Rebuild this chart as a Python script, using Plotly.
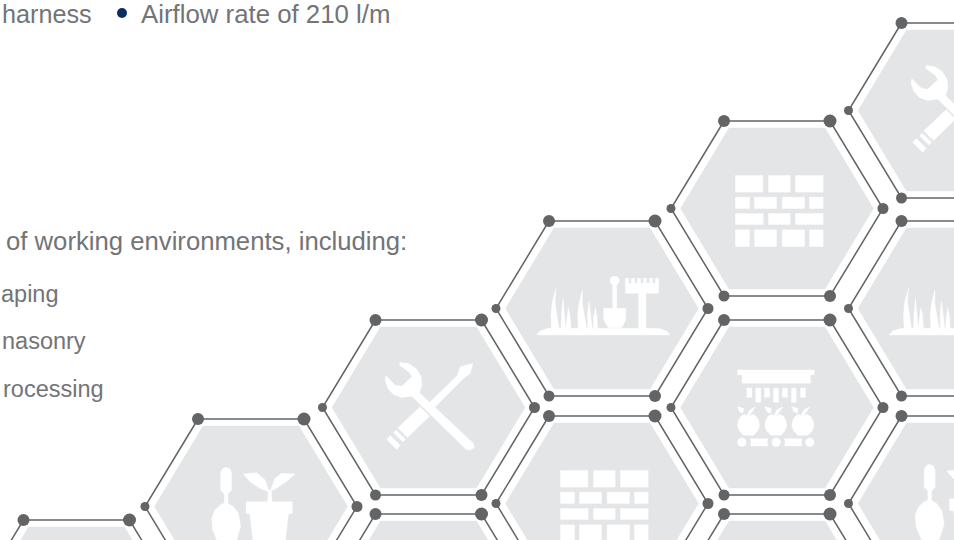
import plotly.graph_objects as go

# Hexagon grid: centre of each cell and the icon it carries
hex_names = ["A", "B", "C", "C2", "D", "D2", "E", "E2", "E3", "F", "F2", "F3"]
hex_cx = [76.5, 251, 428.5, 428.5, 602, 602, 777, 777, 777, 954.5, 954.5, 954.5]
hex_cy = [607.5, 506.5, 407.5, 601.5, 308.5, 503.5, 208.5, 407.5, 601.5, 110.5, 308.5, 503.5]
hex_icon = [None, "plant", "tools", None, "garden", "bricks", "bricks", "food", None, "tools", "garden", "plant"]

text_lines = ["harness", "Airflow rate of 210 l/m", "of working environments, including:",
              "aping", "nasonry", "rocessing"]

GRAY_LINE = "#636466"
GRAY_FILL = "#e4e5e7"
TEXT = "#737476"
NAVY = "#0b2e5f"

fig = go.Figure()


def poly(points, color="white", ox=0, oy=0, cx=0, cy=0, k=1 / 3):
    xs = [cx + (p[0] - ox) * k for p in points] + [cx + (points[0][0] - ox) * k]
    ys = [cy + (p[1] - oy) * k for p in points] + [cy + (points[0][1] - oy) * k]
    fig.add_trace(go.Scatter(x=xs, y=ys, mode="lines", fill="toself", fillcolor=color,
                             line=dict(color=color, width=0.4), hoverinfo="skip", showlegend=False))


def dots(xs, ys, sizes, color="white"):
    fig.add_trace(go.Scatter(x=xs, y=ys, mode="markers",
                             marker=dict(size=sizes, color=color, opacity=1, line=dict(width=0)),
                             hoverinfo="skip", showlegend=False))


def rect(x0, y0, x1, y1):
    return [(x0, y0), (x1, y0), (x1, y1), (x0, y1)]


def icon_bricks(cx, cy):
    rows = [(525, 575, [(288, 370), (387, 452), (468, 551)]),
            (590, 624, [(288, 330), (345, 411), (428, 495), (510, 551)]),
            (639, 672, [(288, 371), (387, 452), (468, 551)]),
            (688, 738, [(288, 330), (345, 411), (428, 495), (510, 551)])]
    for y0, y1, cells in rows:
        for a, b in cells:
            poly(rect(a, y0, b, y1), ox=412.5, oy=624, cx=cx, cy=cy)


def icon_tools(cx, cy):
    o = dict(ox=325, oy=622, cx=cx, cy=cy)
    poly([(240, 487), (265, 490), (288, 505), (303, 530), (305, 555), (298, 578), (460, 730), (462, 742), (450, 750),
          (438, 748), (275, 588), (245, 592), (220, 583), (203, 565), (195, 540), (197, 527), (225, 555), (245, 558),
          (275, 530), (268, 517), (238, 495)], **o)
    poly([(458, 490), (450, 520), (430, 535), (340, 625), (325, 610), (412, 525), (420, 500)], **o)
    poly([(300, 620), (328, 648), (262, 712), (233, 683)], **o)
    poly([(228, 690), (256, 717), (248, 725), (220, 698)], **o)
    poly([(210, 706), (240, 735), (230, 748), (200, 718)], **o)


def icon_garden(cx, cy):
    o = dict(ox=201, oy=130.5, cx=cx, cy=cy)
    poly([(5, 210), (15, 198), (40, 190), (370, 190), (395, 198), (405, 210)], **o)
    for blade in [[(50, 192), (48, 150), (52, 110), (63, 70), (60, 110), (65, 150), (72, 192)],
                  [(78, 192), (80, 140), (84, 100), (88, 140), (92, 192)],
                  [(92, 192), (96, 150), (100, 128), (105, 150), (108, 192)],
                  [(130, 192), (128, 150), (132, 115), (142, 75), (142, 115), (147, 150), (155, 192)],
                  [(158, 192), (158, 145), (162, 108), (166, 145), (172, 192)],
                  [(175, 192), (176, 155), (181, 128), (186, 155), (188, 192)]]:
        poly(blade, **o)
    poly(rect(233, 55, 245, 130), **o)
    poly([(206, 130), (272, 130), (272, 165), (260, 188), (220, 188), (206, 165)], **o)
    poly([(271, 40), (281, 40), (281, 55), (289, 55), (289, 40), (299, 40), (299, 55), (307, 55), (307, 40), (317, 40),
          (317, 55), (325, 55), (325, 40), (335, 40), (335, 55), (343, 55), (343, 40), (353, 40), (353, 55), (361, 55),
          (361, 40), (371, 40), (371, 85), (333, 85), (333, 192), (311, 192), (311, 85), (271, 85)], **o)
    dots([cx + (239 - 201) / 3], [cy + (47 - 130.5) / 3], [9.5])


def icon_plant(cx, cy):
    o = dict(ox=153, oy=139.5, cx=cx, cy=cy)
    poly([(62, 38), (68, 26), (78, 22), (89, 26), (95, 38), (95, 90), (84, 102), (84, 130), (100, 140), (115, 160),
          (122, 200), (110, 240), (85, 290), (78, 296), (72, 290), (50, 240), (38, 210), (35, 175), (45, 150), (60, 135),
          (73, 130), (73, 102), (62, 90)], **o)
    poly([(138, 125), (277, 125), (277, 160), (265, 162), (250, 300), (165, 300), (150, 162), (138, 160)], **o)
    poly([(203, 127), (216, 127), (214, 95), (205, 90)], **o)
    poly([(130, 42), (170, 38), (195, 60), (208, 95), (180, 85), (150, 65)], **o)
    poly([(285, 42), (245, 40), (225, 55), (210, 95), (240, 78), (265, 60)], **o)


def icon_food(cx, cy):
    o = dict(ox=142.5, oy=142.5, cx=cx, cy=cy)
    poly([(24, 30), (254, 30), (254, 44), (243, 44), (243, 70), (38, 70), (38, 44), (24, 44)], **o)
    for a, b, h in [(52, 67, 112), (79, 94, 127), (105, 120, 112), (132, 147, 127),
                    (159, 174, 112), (186, 200, 127), (213, 228, 112)]:
        poly(rect(a, 84, b, h), **o)
    for m in (57, 139, 220):
        poly([(m + dx, y) for dx, y in [(0, 170), (-12, 163), (-22, 168), (-30, 180), (-33, 197), (-28, 212), (-15, 226),
                                        (15, 226), (28, 212), (33, 197), (30, 180), (22, 168), (12, 163)]], **o)
        poly([(m + dx, y) for dx, y in [(-33, 140), (-14, 145), (-17, 160), (-27, 155)]], **o)
        poly([(m + dx, y) for dx, y in [(21, 140), (3, 150), (-7, 170), (0, 170), (10, 157)]], **o)
    for a, b in [(63, 115), (165, 217)]:
        poly([(a, 236), (b, 236), (b - 2, 247), (b, 258), (a, 258), (a + 2, 247)], **o)
    dots([cx + (v - 142.5) / 3 for v in (37, 140, 241)], [cy + (247 - 142.5) / 3] * 3, [9, 9, 9])


ICONS = dict(bricks=icon_bricks, tools=icon_tools, garden=icon_garden, plant=icon_plant, food=icon_food)

for name, cx, cy, icon in zip(hex_names, hex_cx, hex_cy, hex_icon):
    poly([(-96.5, 0), (-48, -80.5), (48, -80.5), (96.5, 0), (48, 80.5), (-48, 80.5)], GRAY_FILL, cx=cx, cy=cy, k=1)
    if icon:
        ICONS[icon](cx, cy)
    vx = [cx - 53, cx + 53, cx + 106, cx + 53, cx - 53, cx - 106]
    vy = [cy - 87.5, cy - 87.5, cy, cy + 87.5, cy + 87.5, cy]
    fig.add_trace(go.Scatter(x=vx + vx[:1], y=vy + vy[:1], mode="lines", line=dict(color=GRAY_LINE, width=1.5),
                             hoverinfo="skip", showlegend=False))
    dots(vx, vy, [12, 13, 11, 12, 11, 9], GRAY_LINE)

dots([122], [13], [10], NAVY)

placements = [(0, 14, "left", 25.2), (139, 14, "left", 25.8), (4, 241, "left", 25.7),
              (61, 293.5, "right", 23.5), (88, 340.5, "right", 23.5), (106, 388.5, "right", 23.5)]
for txt, (x, y, anchor, fs) in zip(text_lines, placements):
    fig.add_annotation(x=x, y=y, text=txt, showarrow=False, xanchor=anchor, yanchor="middle",
                       font=dict(family="Liberation Sans", size=fs, color=TEXT))

fig.update_layout(width=954, height=540, margin=dict(l=0, r=0, t=0, b=0), paper_bgcolor="white", plot_bgcolor="white",
                  xaxis=dict(range=[0, 954], visible=False, fixedrange=True),
                  yaxis=dict(range=[540, 0], visible=False, fixedrange=True), showlegend=False)
fig.write_html("out.html", config=dict(displayModeBar=False),
               post_script="document.body.style.margin='0';document.documentElement.style.overflow='hidden';")
